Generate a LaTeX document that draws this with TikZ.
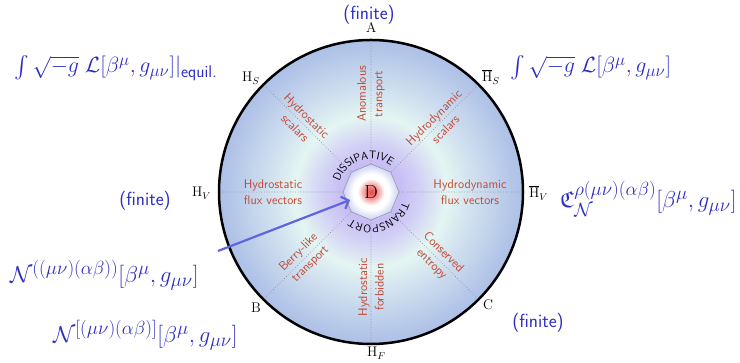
\RequirePackage{fix-cm}
\documentclass[tikz,border=0pt]{standalone}
\usepackage{amsmath,amssymb}
\usepackage{fontspec}
\usetikzlibrary{arrows.meta,calc,shapes.geometric,decorations.text}
\DeclareMathSizes{23}{23}{19}{14}
\DeclareMathSizes{22}{22}{17}{13}

\definecolor{labred}{RGB}{196,72,52}
\definecolor{mathblue}{RGB}{45,45,195}
\definecolor{arrowblue}{RGB}{95,100,225}
\definecolor{halo}{RGB}{198,188,245}
\definecolor{halolight}{RGB}{210,208,245}
\definecolor{mint}{RGB}{228,246,242}
\definecolor{paleblue}{RGB}{212,228,240}
\definecolor{midblue}{RGB}{190,207,235}
\definecolor{rimblue}{RGB}{172,191,230}
\definecolor{glowred}{RGB}{232,72,70}
\definecolor{hubedge}{RGB}{200,206,245}

\pgfdeclareradialshading{diskshade}{\pgfpointorigin}{color(0bp)=(white); color(4.6bp)=(halo); color(8bp)=(halolight); color(12.5bp)=(mint); color(16bp)=(paleblue); color(21bp)=(midblue); color(25bp)=(rimblue); color(50bp)=(rimblue)}
\pgfdeclareradialshading{hubshade}{\pgfpointorigin}{color(0bp)=(glowred); color(4bp)=(glowred!75!white); color(12bp)=(white); color(16bp)=(white); color(25bp)=(hubedge); color(50bp)=(hubedge)}

\begin{document}
\begin{tikzpicture}[
  x=1pt, y=1pt,
  lab/.style={font=\fontsize{12.5}{16.5}\selectfont\sffamily, text=labred, align=center, inner sep=0pt},
  rim/.style={font=\fontsize{14}{15}\selectfont, text=black, inner sep=0pt, anchor=base west},
  eq/.style={font=\fontsize{23}{26}\selectfont, text=mathblue, inner sep=0pt, anchor=base west},
  integ/.style={eq, font=\fontsize{22}{25}\selectfont},
  fin/.style={font=\fontsize{19}{21}\selectfont\sffamily, text=mathblue, inner sep=0pt, anchor=base},
  spoke/.style={gray, dotted, line width=0.6pt},
  ring/.style={circle, draw=black, line width=2.5pt, shading=diskshade, minimum size=304, inner sep=0pt},
  hubnode/.style={regular polygon, regular polygon sides=8, shape border rotate=22.5, minimum size=56, inner sep=0pt, draw=gray!80, line width=0.6pt, shading=hubshade, font=\fontsize{19}{20}\selectfont},
  curved/.style={decorate, decoration={text along path, text align=center, text={|\sffamily\fontsize{11}{11}\selectfont|#1}}},
  pointer/.style={arrowblue, line width=2.2pt, -{Straight Barb[length=6pt, width=13pt]}},
]
\useasboundingbox (0,0) rectangle (740,363);

% disk and centre
\node[ring] (disk) at (371,171) {};
\node[hubnode] (hub) at (371,171) {D};
\foreach \a in {0,45,...,315}
  \draw[spoke] (hub.\a) -- (disk.\a);
\path[curved=DISSIPATIVE] ($(hub.center)+(172:33)$) arc[start angle=172, end angle=43, radius=33];
\path[curved=TRANSPORT] ($(hub.center)+(-17:33)$) arc[start angle=-17, end angle=-127, radius=33];

% sectors
\node[lab, rotate=90] (anom) at ($(hub.center)+(90:98)$) {Anomalous\\transport};
\node[lab, rotate=-45] (hsc) at ($(hub.center)+(135:99)$) {Hydrostatic\\scalars};
\node[lab, rotate=45] (hdsc) at ($(hub.center)+(45:97)$) {Hydrodynamic\\scalars};
\node[lab] (hflux) at ($(hub.center)+(180:98)$) {Hydrostatic\\flux vectors};
\node[lab] (hdflux) at ($(hub.center)+(0:99)$) {Hydrodynamic\\flux vectors};
\node[lab, rotate=45] (berry) at ($(hub.center)+(225:94)$) {Berry-like\\transport};
\node[lab, rotate=90] (forb) at ($(hub.center)+(270:95)$) {Hydrostatic\\forbidden};
\node[lab, rotate=-45] (entr) at ($(hub.center)+(315:94)$) {Conserved\\entropy};

% rim letters
\node[rim] (rA) at (366,330) {A};
\node[rim] (rHS) at (242,281) {$\mathrm{H}_S$};
\node[rim] (rHSb) at (482,281) {$\overline{\mathrm{H}}_S$};
\node[rim] (rHV) at (192,166) {$\mathrm{H}_V$};
\node[rim] (rHVb) at (529,165) {$\overline{\mathrm{H}}_V$};
\node[rim] (rB) at (251,50) {B};
\node[rim] (rC) at (483,53) {C};
\node[rim] (rHF) at (367,6) {$\mathrm{H}_F$};

% blue annotations
\node[fin] (fintop) at (369,343) {(finite)};
\node[fin] (finleft) at (145,157) {(finite)};
\node[fin] (finright) at (538,35) {(finite)};
\node[integ] (intL) at (14,290) {$\int\sqrt{-g}\;\mathcal{L}[\beta^\mu,g_{\mu\nu}]|_{\text{\sffamily equil.}}$};
\node[integ] (intR) at (510,290) {$\int\sqrt{-g}\;\mathcal{L}[\beta^\mu,g_{\mu\nu}]$};
\node[eq] (cfrak) at (560,155) {$\mathfrak{C}^{\rho(\mu\nu)(\alpha\beta)}_{\mathcal{N}}[\beta^\mu,g_{\mu\nu}]$};
\node[eq] (nsym) at (10,80) {$\mathcal{N}^{((\mu\nu)(\alpha\beta))}[\beta^\mu,g_{\mu\nu}]$};
\node[eq] (nanti) at (53,20) {$\mathcal{N}^{[(\mu\nu)(\alpha\beta)]}[\beta^\mu,g_{\mu\nu}]$};

% arrow into the centre
\coordinate (tail) at (218,112);
\coordinate (tip) at ($(hub.center)+(-21,-8)$);
\draw[pointer] (tail) -- (tip);
\end{tikzpicture}
\end{document}
